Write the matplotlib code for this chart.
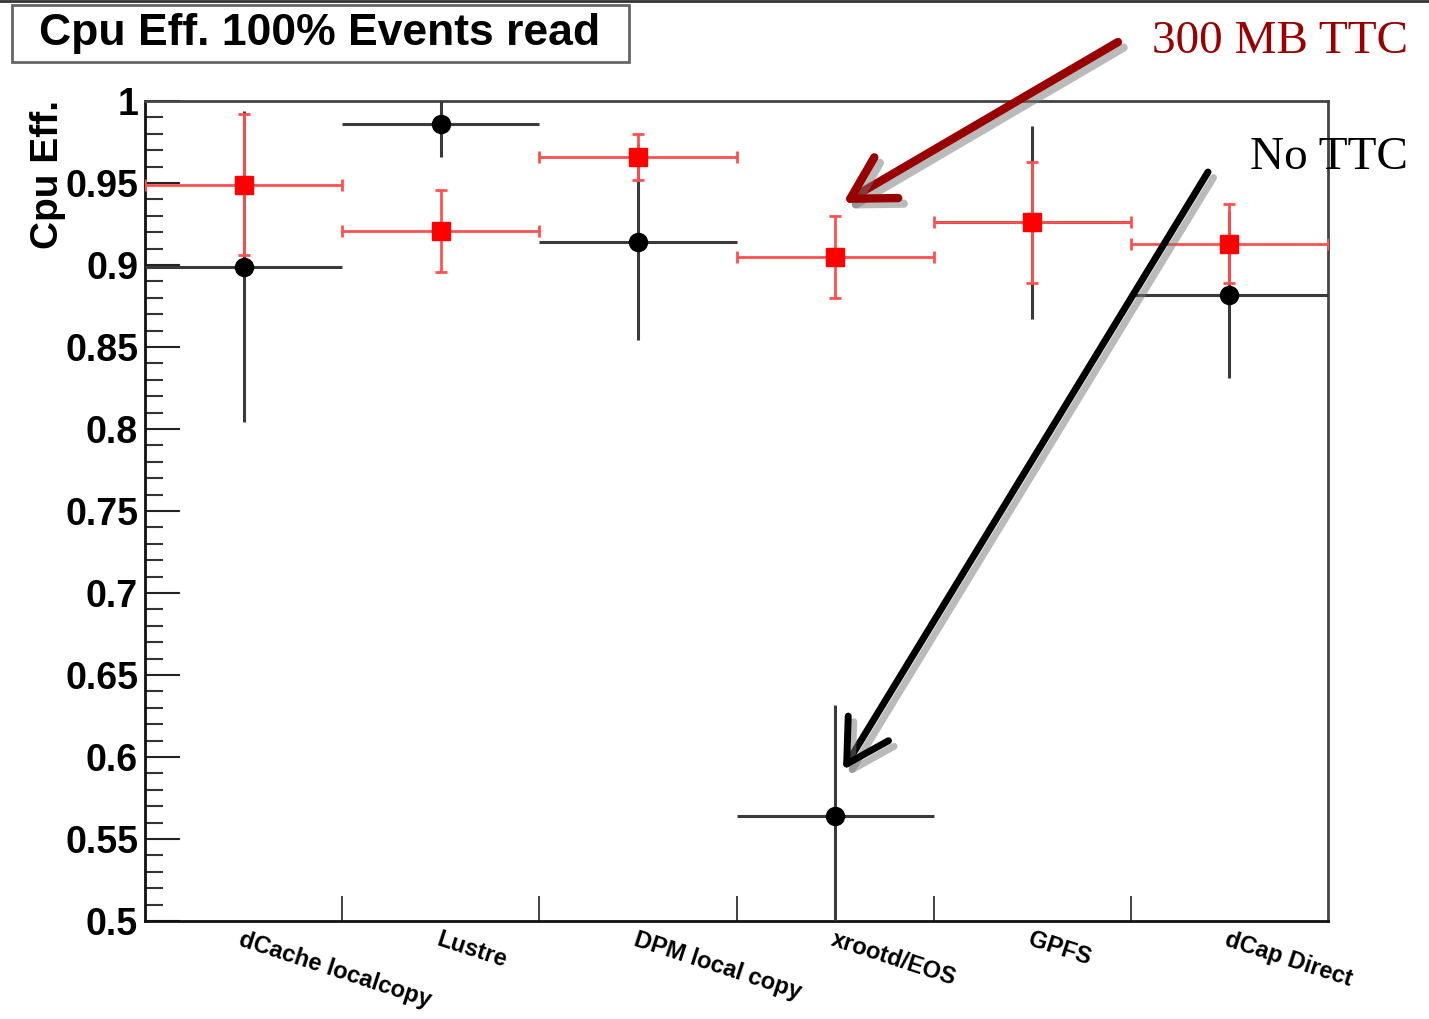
import matplotlib
matplotlib.use("Agg")
import matplotlib.pyplot as plt
import matplotlib.patheffects as pe
from matplotlib.patches import Rectangle, FancyArrowPatch
from matplotlib.ticker import MultipleLocator
import numpy as np

categories = ["dCache localcopy", "Lustre", "DPM local copy", "xrootd/EOS", "GPFS", "dCap Direct"]
no_ttc = [0.899, 0.986, 0.914, 0.564, 0.926, 0.882]
no_ttc_err = [0.095, 0.020, 0.060, 0.068, 0.059, 0.051]
ttc_300 = [0.949, 0.921, 0.966, 0.905, 0.926, 0.913]
ttc_300_err = [0.043, 0.025, 0.014, 0.025, 0.037, 0.024]
ytick_labels = ["0.5", "0.55", "0.6", "0.65", "0.7", "0.75", "0.8", "0.85",
                "0.9", "0.95", "1"]

W, H = 1429, 1019
fig = plt.figure(figsize=(W / 100, H / 100), dpi=100)
fig.patch.set_facecolor("white")

def fx(px):
    return px / W

def fy(py):
    return 1 - py / H

ax = fig.add_axes([fx(145), fy(921), fx(1328) - fx(145), fy(101) - fy(921)])

x = np.arange(len(categories)) + 0.5
ax.errorbar(x, no_ttc, yerr=no_ttc_err, xerr=0.5, fmt="o", color="black",
            ecolor="#3a3a3a", elinewidth=2.2, markersize=13, capsize=0, zorder=3)
ax.errorbar(x, ttc_300, yerr=ttc_300_err, xerr=0.5, fmt="s", color="#ff0000",
            ecolor="#ff5050", elinewidth=2.0, markersize=13, capsize=4,
            capthick=2.0, zorder=4)

ax.set_xlim(0, len(categories))
ax.set_ylim(0.5, 1.0)

# y axis ticks (ROOT-like, inward, left only)
ax.set_yticks(np.arange(0.5, 1.0001, 0.05))
ax.set_yticklabels(ytick_labels)
ax.yaxis.set_minor_locator(MultipleLocator(0.01))
ax.tick_params(axis="y", which="major", direction="in", length=25, width=1.5,
               color="#222222", labelsize=27, pad=5, right=False)
ax.tick_params(axis="y", which="minor", direction="in", length=13, width=1.5,
               color="#333333", right=False)
for lab in ax.get_yticklabels():
    lab.set_fontweight("bold")
    lab.set_family("Liberation Sans")

# x axis: ticks at bin edges, labels at bin centres
ax.set_xticks(np.arange(1, len(categories)))
ax.set_xticklabels([])
ax.set_xticks(x, minor=True)
ax.set_xticklabels(categories, minor=True, rotation=-18, ha="left",
                   rotation_mode="anchor", fontsize=17, fontweight="bold",
                   family="Liberation Sans")
ax.tick_params(axis="x", which="major", direction="in", length=18, width=1.3,
               color="#333333", top=False)
ax.tick_params(axis="x", which="minor", length=0, pad=5, top=False)

for side in ["left", "bottom"]:
    ax.spines[side].set_color("#111111")
    ax.spines[side].set_linewidth(2)
for side in ["top", "right"]:
    ax.spines[side].set_color("#444444")
    ax.spines[side].set_linewidth(2)

# y label
fig.text(fx(48), fy(100), "Cpu Eff.", rotation=90, ha="center", va="top",
         fontsize=28, fontweight="bold", family="Liberation Sans")

# title box
fig.patches.append(Rectangle((fx(12), fy(62)), fx(629) - fx(12), fy(5) - fy(62),
                             transform=fig.transFigure, fill=False,
                             edgecolor="#666666", linewidth=2))
fig.text(fx(320), fy(33), "Cpu Eff. 100% Events read", ha="center", va="center",
         fontsize=32, fontweight="bold", family="Liberation Sans")

# top edge line of screenshot
fig.add_artist(plt.Line2D([0, 1], [fy(1), fy(1)], transform=fig.transFigure,
                          color="#333333", linewidth=2))

# annotations
fig.text(fx(1280), fy(42), "300 MB TTC", ha="center", va="center",
         fontsize=34, color="#990000", family="Liberation Serif")
fig.text(fx(1329), fy(158), "No TTC", ha="center", va="center",
         fontsize=34, color="black", family="Liberation Serif")

def arrow(p0, p1, color, lw):
    a = fig.add_artist(FancyArrowPatch(
        (fx(p0[0]), fy(p0[1])), (fx(p1[0]), fy(p1[1])),
        transform=fig.transFigure,
        arrowstyle="->,head_length=1.5,head_width=0.85",
        color=color, linewidth=lw, mutation_scale=20,
        capstyle="round", joinstyle="round", shrinkA=0, shrinkB=0))
    a.set_path_effects([pe.SimpleLineShadow(offset=(4, -4), shadow_color="#777777", alpha=0.5),
                        pe.Normal()])

arrow((1118, 42), (843, 203), "#990000", 6)
arrow((1208, 172), (843, 770), "black", 5)

fig.savefig("out.png", dpi=100, facecolor="white")
